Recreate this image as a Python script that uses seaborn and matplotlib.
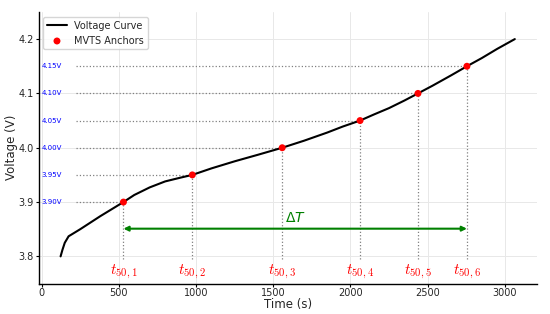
import numpy as np
import pandas as pd
import matplotlib
matplotlib.use("Agg")
import matplotlib.pyplot as plt
import seaborn as sns

# curve
time_s = [123, 135, 150, 175, 250, 380, 530, 600, 700, 800, 900, 976, 1100, 1250, 1400, 1558,
          1700, 1850, 1950, 2062, 2150, 2250, 2350, 2437, 2530, 2650, 2754, 2850, 2950, 3064]
voltage = [3.800, 3.812, 3.825, 3.837, 3.850, 3.874, 3.900, 3.913, 3.927, 3.938, 3.945, 3.950,
           3.962, 3.975, 3.987, 4.000, 4.013, 4.028, 4.039, 4.050, 4.061, 4.073, 4.087, 4.100,
           4.114, 4.133, 4.150, 4.165, 4.182, 4.200]

# anchors
anchor_t = [530, 976, 1558, 2062, 2437, 2754]
anchor_v = [3.90, 3.95, 4.00, 4.05, 4.10, 4.15]
anchor_lbl = ["3.90V", "3.95V", "4.00V", "4.05V", "4.10V", "4.15V"]
t_lbl = ["$t_{50,1}$", "$t_{50,2}$", "$t_{50,3}$", "$t_{50,4}$", "$t_{50,5}$", "$t_{50,6}$"]

sns.set_style("whitegrid")
plt.rcParams['font.family'] = ['DejaVu Sans']

df = pd.DataFrame({'time': time_s, 'v': voltage})
anc = pd.DataFrame({'time': anchor_t, 'v': anchor_v})

fig, ax = plt.subplots(figsize=(5.5, 3.14), dpi=100)
sns.lineplot(data=df, x='time', y='v', color='black', lw=1.5, label='Voltage Curve', ax=ax)
sns.scatterplot(data=anc, x='time', y='v', color='red', s=25, edgecolor='none',
                label='MVTS Anchors', zorder=5, ax=ax)

for t, v, l, tl in zip(anchor_t, anchor_v, anchor_lbl, t_lbl):
    ax.plot([220, t], [v, v], ls=':', color='gray', lw=0.9, zorder=1)
    ax.plot([t, t], [3.795, v], ls=':', color='gray', lw=0.9, zorder=1)
    ax.text(0, v, l, color='blue', fontsize=5, va='center', ha='left')
    ax.text(t, 3.771, tl, color='red', fontsize=11, ha='center', va='center',
            math_fontfamily='cm')

ax.annotate('', xy=(anchor_t[-1], 3.851), xytext=(anchor_t[0], 3.851),
            arrowprops=dict(arrowstyle='<|-|>', color='green', lw=1.5,
                            mutation_scale=7, shrinkA=0, shrinkB=0))
ax.text((anchor_t[0] + anchor_t[-1]) / 2, 3.871, r'$\Delta T$', color='green',
        fontsize=10, ha='center', va='center')

ax.set_ylim(3.75, 4.25)
ax.set_xlim(-20, 3210)
ax.set_xticks([0, 500, 1000, 1500, 2000, 2500, 3000])
ax.set_yticks([3.8, 3.9, 4.0, 4.1, 4.2])
ax.tick_params(labelsize=7, length=2.5, width=0.8, left=True, bottom=True, color='black', pad=1)
ax.set_xlabel('Time (s)', fontsize=8.5)
ax.set_ylabel('Voltage (V)', fontsize=8.5)
ax.xaxis.set_label_coords(0.5, -0.055)
ax.yaxis.set_label_coords(-0.042, 0.5)
ax.grid(color='#e8e8e8', lw=0.7)
for s in ['top', 'right']:
    ax.spines[s].set_visible(False)
for s in ['left', 'bottom']:
    ax.spines[s].set_color('black')
    ax.spines[s].set_linewidth(1.0)
ax.legend(loc='upper left', fontsize=7, frameon=True)

plt.subplots_adjust(left=0.07, right=0.977, top=0.962, bottom=0.097)
plt.savefig('out.png', dpi=100)
